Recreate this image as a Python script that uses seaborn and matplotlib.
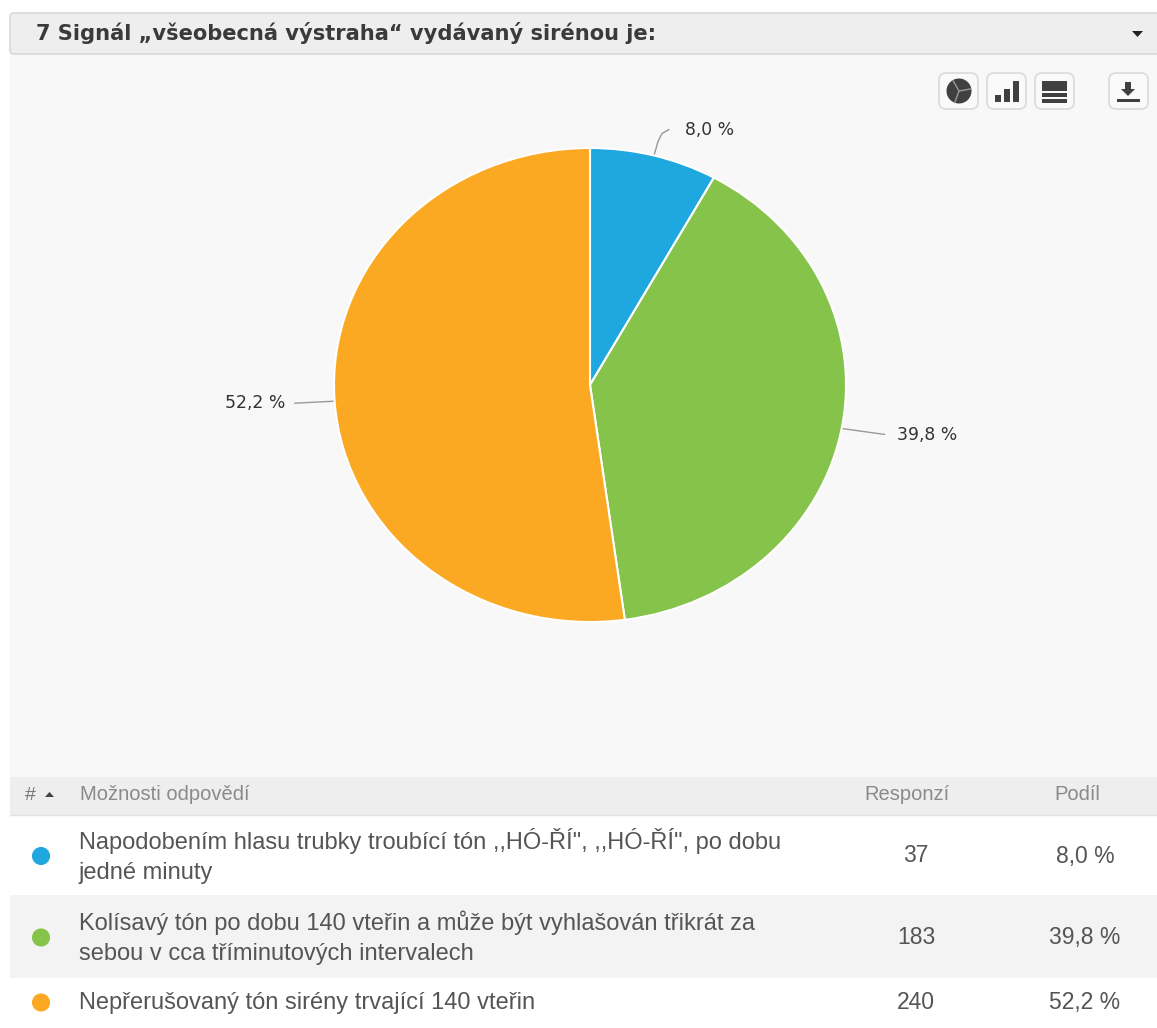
import numpy as np
import pandas as pd
import seaborn as sns
import matplotlib
matplotlib.use("Agg")
import matplotlib.pyplot as plt
from matplotlib.patches import FancyBboxPatch, Rectangle, Wedge, Polygon

sns.set_theme(style="white")
plt.rcParams["font.family"] = ["Liberation Sans", "DejaVu Sans"]

W, H = 1157, 1028

title = "7 Signál „všeobecná výstraha“ vydávaný sirénou je:"
header_labels = ["Možnosti odpovědí", "Responzí", "Podíl"]
answers = [
    'Napodobením hlasu trubky troubící tón ,,HÓ-ŘÍ", ,,HÓ-ŘÍ", po dobu\njedné minuty',
    "Kolísavý tón po dobu 140 vteřin a může být vyhlašován třikrát za\nsebou v cca tříminutových intervalech",
    "Nepřerušovaný tón sirény trvající 140 vteřin",
]
responses = [37, 183, 240]
shares = ["8,0 %", "39,8 %", "52,2 %"]
colors = ["#1FA8E0", "#86C34A", "#FBA922"]
row_tops = [815, 895, 978]
row_bottoms = [895, 978, 1028]
row_fills = ["#FFFFFF", "#F3F3F3", "#FFFFFF"]

fig = plt.figure(figsize=(W / 100, H / 100), dpi=100, facecolor="white")

# Page layer, addressed in pixels from the top left corner
page = fig.add_axes([0, 0, 1, 1])
page.set_xlim(0, W)
page.set_ylim(H, 0)
page.axis("off")

# Question panel and title bar
page.add_patch(Rectangle((10, 54), W - 10, 723, fc="#F8F8F8", ec="none"))
page.add_patch(FancyBboxPatch((10, 13), W, 41, boxstyle="round,pad=0,rounding_size=4",
                              fc="#EEEEEE", ec="#D8D8D8", lw=1.2))
page.text(36, 33, title, fontsize=15.1, fontweight="bold", color="#3A3A3A",
          family="DejaVu Sans", va="center")
page.add_patch(Polygon([[1132, 31], [1143, 31], [1137.5, 37]], fc="#222222", ec="none"))

# Toolbar buttons
for x0 in [939, 987, 1035, 1109]:
    page.add_patch(FancyBboxPatch((x0, 73), 39, 36, boxstyle="round,pad=0,rounding_size=7",
                                  fc="#FAFAFA", ec="#DDDDDD", lw=1.3))
icon = "#404040"
page.add_patch(Wedge((959, 91), 12.5, 0, 360, fc=icon, ec="none"))
for angle in (120, 250, 10):
    page.plot([959, 959 + 12 * np.cos(np.radians(angle))],
              [91, 91 - 12 * np.sin(np.radians(angle))], color="#999999", lw=1)
for x0, top in [(995, 95), (1004, 89), (1013, 81)]:
    page.add_patch(Rectangle((x0, top), 6, 102 - top, fc=icon, ec="none"))
for top, height in [(81, 10), (93, 4), (99, 4)]:
    page.add_patch(Rectangle((1042, top), 25, height, fc=icon, ec="none"))
page.add_patch(Rectangle((1125, 82), 6, 8, fc=icon, ec="none"))
page.add_patch(Polygon([[1121, 89], [1135, 89], [1128, 96]], fc=icon, ec="none"))
page.add_patch(Rectangle((1117, 99), 23, 3, fc=icon, ec="none"))

# Table header
page.add_patch(Rectangle((10, 777), W - 10, 38, fc="#EEEEEE", ec="none"))
page.plot([10, W], [815, 815], color="#E2E2E2", lw=1)
page.text(25, 795, "#", fontsize=14, color="#777777", va="center")
page.add_patch(Polygon([[45, 797], [54, 797], [49.5, 792]], fc="#444444", ec="none"))
page.text(80, 795, header_labels[0], fontsize=14.5, color="#8A8A8A", va="center")
page.text(907, 795, header_labels[1], fontsize=14.5, color="#8A8A8A", va="center", ha="center")
page.text(1077, 795, header_labels[2], fontsize=14.5, color="#8A8A8A", va="center", ha="center")

# Table rows
for top, bottom, fill in zip(row_tops, row_bottoms, row_fills):
    page.add_patch(Rectangle((10, top), W - 10, bottom - top, fc=fill, ec="none", zorder=0.5))
row_centers = [(t + min(b, 1025)) / 2 + 1 for t, b in zip(row_tops, row_bottoms)]
table = pd.DataFrame({"x": [41] * 3, "y": row_centers, "answer": answers})
sns.scatterplot(data=table, x="x", y="y", hue="answer", palette=colors, s=170,
                linewidth=0, legend=False, ax=page)
page.set_xlim(0, W)
page.set_ylim(H, 0)
page.axis("off")
for y, answer, count, share in zip(row_centers, answers, responses, shares):
    page.text(79, y, answer, fontsize=17, color="#555555", va="center", linespacing=1.5)
    page.text(916, y, str(count), fontsize=16.5, color="#555555", va="center", ha="center")
    page.text(1085, y, share, fontsize=16.5, color="#555555", va="center", ha="center")

# Pie, stretched horizontally as on the survey page
left, right, top, bottom = 334, 846, 148, 622
pie_ax = fig.add_axes([left / W, 1 - bottom / H, (right - left) / W, (bottom - top) / H])
pie_ax.patch.set_alpha(0)
pie_ax.pie(responses, colors=colors, startangle=90, counterclock=False,
           wedgeprops={"edgecolor": "white", "linewidth": 1.5})
pie_ax.set_aspect("auto")
pie_ax.set_xlim(-1, 1)
pie_ax.set_ylim(-1, 1)

# Leader lines start at each slice's mid angle; label offsets are in pixels
cx, cy = (left + right) / 2, (top + bottom) / 2
rx, ry = (right - left) / 2, (bottom - top) / 2
fractions = np.array(responses) / sum(responses)
mids = (np.cumsum(fractions) - fractions / 2) * 2 * np.pi
leader_bends = [[(4, -14), (8, -22), (15, -26)], [(43, 6)], [(-40, 2)]]
label_gaps = [(31, -26), (55, 7), (-49, 2)]
label_align = ["left", "left", "right"]
for mid, bend, gap, align, share in zip(mids, leader_bends, label_gaps, label_align, shares):
    px, py = cx + rx * np.sin(mid), cy - ry * np.cos(mid)
    xs = [px] + [px + b[0] for b in bend]
    ys = [py] + [py + b[1] for b in bend]
    page.plot(xs, ys, color="#999999", lw=1)
    page.text(px + gap[0], py + gap[1], share, fontsize=12.4, color="#333333",
              family="DejaVu Sans", ha=align, va="center")

fig.savefig("out.png", dpi=100)
